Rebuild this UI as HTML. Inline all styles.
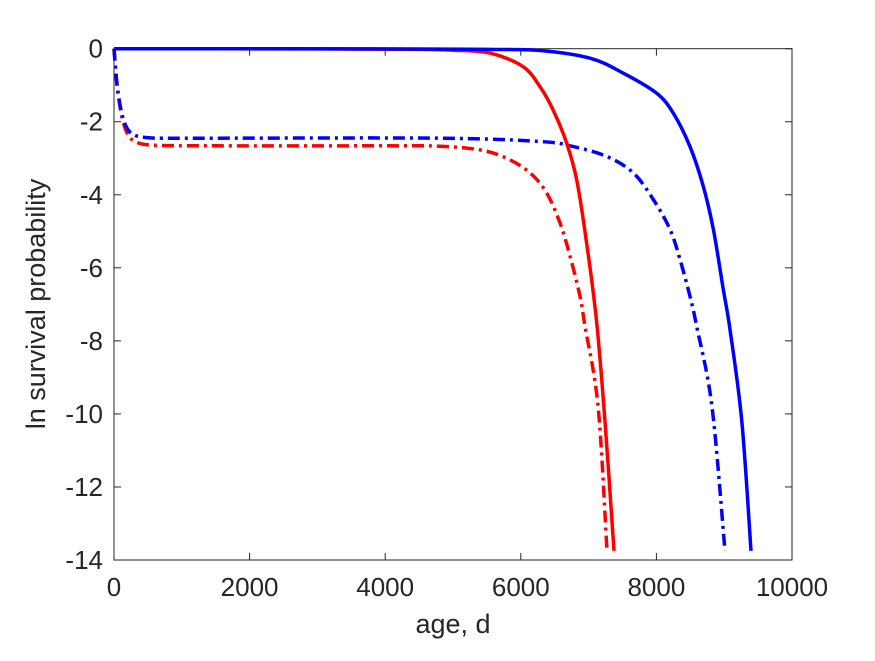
<!DOCTYPE html>
<html><head><meta charset="utf-8"><style>
body{margin:0;background:#fff}
svg text{font-family:"Liberation Sans",sans-serif;fill:#262626}
</style></head><body>
<svg id="c" width="875" height="656" viewBox="0 0 875 656"></svg>
<script>
const xTicks=[0,2000,4000,6000,8000,10000];
const yTicks=[0,-2,-4,-6,-8,-10,-12,-14];
const redSolidX=[0,3000,4500,5000,5546,6032,6283,6475,6676,6824,6971,7119,7250,7375];
const redSolidY=[0,-0.005,-0.02,-0.04,-0.12,-0.49,-1.04,-1.67,-2.58,-3.59,-5.32,-7.5,-10.4,-13.75];
const redDashX=[0,40,90,150,220,320,450,700,1500,4000,4808,5398,5792,6136,6382,6578,6726,6873,6947,7140,7271];
const redDashY=[0,-0.9,-1.6,-2.1,-2.4,-2.55,-2.62,-2.65,-2.66,-2.66,-2.67,-2.77,-3.0,-3.4,-3.95,-4.77,-5.68,-6.78,-7.6,-9.8,-13.75];
const blueSolidX=[0,4000,5500,6283,7021,7512,8004,8250,8496,8692,8840,8987,9086,9260,9395];
const blueSolidY=[0,-0.005,-0.02,-0.05,-0.26,-0.67,-1.22,-1.77,-2.68,-3.77,-4.95,-6.59,-7.69,-10.2,-13.75];
const blueDashX=[0,40,90,150,220,320,450,700,1500,4808,6283,6775,7267,7660,7955,8201,8348,8496,8594,8820,9012];
const blueDashY=[0,-0.9,-1.55,-2.0,-2.25,-2.38,-2.43,-2.45,-2.45,-2.45,-2.54,-2.68,-2.95,-3.4,-4.13,-4.95,-5.77,-6.78,-7.6,-9.8,-13.75];
const L=114,R=792,T=48.7,B=560;
const sx=v=>L+(v-0)/10000*(R-L);
const sy=v=>T+(0-v)/14*(B-T);
const svg=document.getElementById('c');
const NS='http://www.w3.org/2000/svg';
function mk(t,a,p){const e=document.createElementNS(NS,t);for(const k in a)e.setAttribute(k,a[k]);(p||svg).appendChild(e);return e;}
const ax=mk('g',{});


mk('rect',{x:L,y:T,width:R-L,height:B-T,fill:'none',stroke:'#262626','stroke-width':1},ax);
xTicks.forEach(v=>{
 mk('line',{x1:sx(v),x2:sx(v),y1:B,y2:B-7,stroke:'#262626'},ax);
 mk('line',{x1:sx(v),x2:sx(v),y1:T,y2:T+7,stroke:'#262626'},ax);
 const t=mk('text',{x:sx(v),y:B+36,'font-size':26,'text-anchor':'middle'},ax);t.textContent=v;
 
 
});
yTicks.forEach(v=>{
 mk('line',{x1:L,x2:L+7,y1:sy(v),y2:sy(v),stroke:'#262626'},ax);
 mk('line',{x1:R,x2:R-7,y1:sy(v),y2:sy(v),stroke:'#262626'},ax);
 const t=mk('text',{x:L-11,y:sy(v)+9,'font-size':26,'text-anchor':'end'},ax);t.textContent=v;
 
 
});
const xl=mk('text',{x:(L+R)/2,y:633,'font-size':27,'text-anchor':'middle'});xl.textContent='age, d';


const yl=mk('text',{x:0,y:0,'font-size':27,'text-anchor':'middle',transform:'translate(45,304) rotate(-90)'});yl.textContent='ln survival probability';


function series(xs,ys,col,dash,name){
 const P=xs.map((x,i)=>[sx(x),sy(ys[i])]);
 let d='M'+P[0][0].toFixed(1)+','+P[0][1].toFixed(1);
 for(let i=0;i<P.length-1;i++){
  const p0=P[i-1]||P[i],p1=P[i],p2=P[i+1],p3=P[i+2]||P[i+1];
  const c1=[p1[0]+(p2[0]-p0[0])/6,p1[1]+(p2[1]-p0[1])/6];
  const c2=[p2[0]-(p3[0]-p1[0])/6,p2[1]-(p3[1]-p1[1])/6];
  d+='C'+c1.map(n=>n.toFixed(1))+' '+c2.map(n=>n.toFixed(1))+' '+p2.map(n=>n.toFixed(1));
 }
 const p=mk('path',{d:d,fill:'none',stroke:col,'stroke-width':3.5,'stroke-linejoin':'round'});
 if(dash)p.setAttribute('stroke-dasharray','12,5,3,5');
 
 
}
series(redDashX,redDashY,'#ff0000',true,'red-dashdot-line');
series(blueDashX,blueDashY,'#0000ff',true,'blue-dashdot-line');
series(redSolidX,redSolidY,'#ff0000',false,'red-solid-line');
series(blueSolidX,blueSolidY,'#0000ff',false,'blue-solid-line');
</script>
</body></html>
